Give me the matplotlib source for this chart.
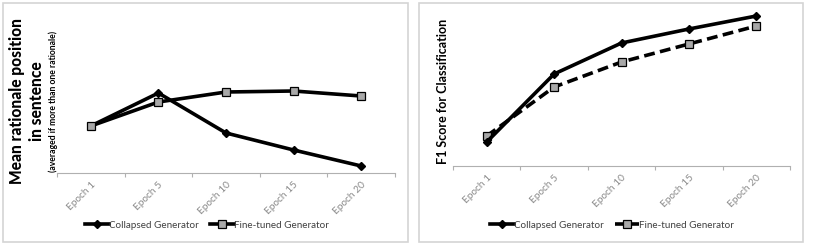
import matplotlib
matplotlib.use("Agg")
import matplotlib.pyplot as plt
from matplotlib.patches import Rectangle

plt.rcParams['font.family'] = ['Lato', 'DejaVu Sans']

epochs = ["Epoch 1", "Epoch 5", "Epoch 10", "Epoch 15", "Epoch 20"]
# left chart: mean rationale position (arbitrary units, no y scale shown)
pos_collapsed = [47, 80, 40, 23, 7]
pos_finetuned = [47, 71, 81, 82, 77]
# right chart: F1 score (arbitrary units, no y scale shown)
f1_collapsed = [24, 92, 123, 137, 150]
f1_finetuned = [30, 79, 104, 122, 140]

W, H = 813, 246
fig = plt.figure(figsize=(W / 100, H / 100), dpi=100)

def fx(px):
    return px / W

def fy(py):
    return 1 - py / H

# panel borders
for (x0, y0, x1, y1) in [(3, 3, 408, 242), (419, 3, 803, 242)]:
    fig.add_artist(Rectangle((fx(x0), fy(y1)), fx(x1 - x0), (y1 - y0) / H,
                             transform=fig.transFigure, fill=False,
                             edgecolor='#d4d4d4', lw=1.2))

def setup(ax, ylim):
    x = list(range(len(epochs)))
    ax.set_xlim(-0.5, len(epochs) - 0.5)
    ax.set_ylim(*ylim)
    for s in ['top', 'right', 'left']:
        ax.spines[s].set_visible(False)
    ax.spines['bottom'].set_color('#b0b0b0')
    ax.spines['bottom'].set_linewidth(0.8)
    ax.set_yticks([])
    ax.set_xticks(x)
    ax.set_xticklabels(epochs, rotation=45, ha='right', rotation_mode='anchor',
                       fontsize=7.3, color='#8a8a8a')
    ax.tick_params(axis='x', which='major', length=0, pad=5)
    ax.set_xticks([i - 0.5 for i in range(len(epochs) + 1)], minor=True)
    ax.tick_params(axis='x', which='minor', length=3, color='#b0b0b0', width=0.8)
    return x

sq_kw = dict(marker='s', markersize=6, markerfacecolor='#a8a8a8',
             markeredgecolor='black', markeredgewidth=0.9)
dm_kw = dict(marker='D', markersize=4.5, markerfacecolor='black',
             markeredgecolor='black')

leg_kw = dict(loc='center', ncol=2, frameon=False, fontsize=7.1,
              handlelength=2.4, handletextpad=0.0, columnspacing=1.2,
              labelcolor='#404040')

# left panel
ax1 = fig.add_axes([fx(57), 1 - 173 / H, fx(338), 160 / H])
x = setup(ax1, (0, 160))
ax1.plot(x, pos_collapsed, color='black', lw=2.6, label='Collapsed Generator',
         zorder=3, **dm_kw)
ax1.plot(x, pos_finetuned, color='black', lw=2.6, label='Fine-tuned Generator',
         zorder=4, **sq_kw)
ax1.legend(bbox_to_anchor=(fx(207), fy(225)), bbox_transform=fig.transFigure,
           **leg_kw)

fig.text(fx(17), fy(101), 'Mean rationale position', rotation=90,
         ha='center', va='center', fontsize=11.2, fontweight='black')
fig.text(fx(37), fy(101), 'in sentence', rotation=90,
         ha='center', va='center', fontsize=11.2, fontweight='black')
fig.text(fx(53), fy(101), '(averaged if more than one rationale)', rotation=90,
         ha='center', va='center', fontsize=6.2, fontweight='bold')

# right panel
ax2 = fig.add_axes([fx(453), 1 - 166 / H, fx(337), 160 / H])
x = setup(ax2, (0, 160))
ax2.plot(x, f1_collapsed, color='black', lw=2.6, label='Collapsed Generator',
         zorder=4, **dm_kw)
ax2.plot(x, f1_finetuned, color='black', lw=2.6, ls=(0, (3, 1.5)),
         label='Fine-tuned Generator', zorder=3, **sq_kw)
ax2.legend(bbox_to_anchor=(fx(612), fy(225)), bbox_transform=fig.transFigure,
           **leg_kw)

fig.text(fx(443), fy(91), 'F1 Score for Classification', rotation=90,
         ha='center', va='center', fontsize=9, fontweight='bold')

fig.savefig('out.png', dpi=100)
